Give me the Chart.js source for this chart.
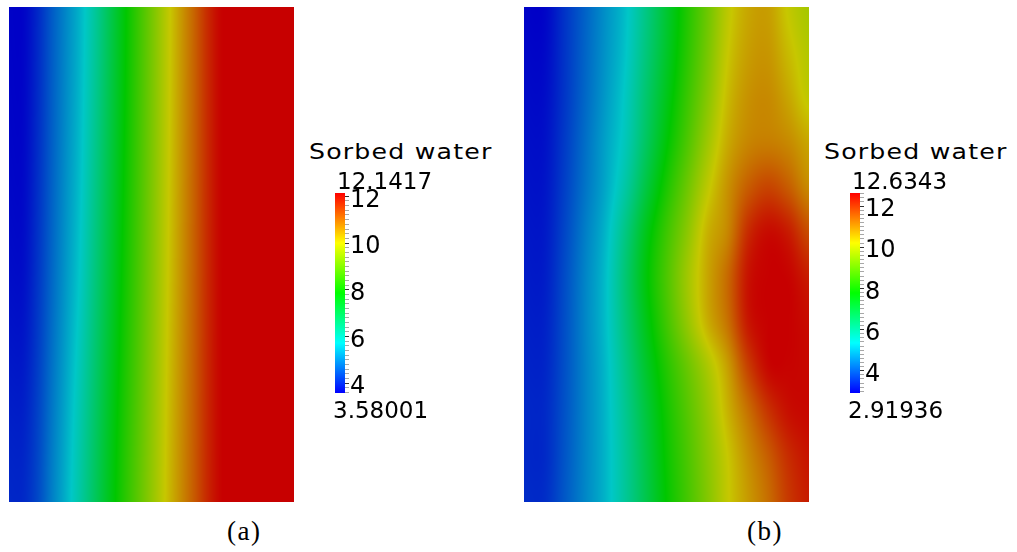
<!DOCTYPE html>
<html>
<head>
<meta charset="utf-8">
<script src="https://cdn.jsdelivr.net/npm/chart.js@4.4.1/dist/chart.umd.min.js"></script>
<style>
  body { margin: 0; background: #fff; }
  #pagina { position: relative; width: 1017px; height: 552px; overflow: hidden; font-family: "DejaVu Sans", sans-serif; color: #000; }
  .caixa { position: absolute; }
  .titulo { position: absolute; font-size: 21px; line-height: 21px; letter-spacing: 1px; transform: scaleX(1.2); transform-origin: left top; white-space: nowrap; }
  .valor { position: absolute; font-size: 23px; line-height: 23px; white-space: nowrap; }
  .legenda { position: absolute; font-family: "Liberation Serif", serif; font-size: 27px; line-height: 27px; letter-spacing: 1.5px; }
</style>
</head>
<body>
<div id="pagina">
  <div class="caixa" style="left:9px;top:7px;width:285px;height:495px"><canvas id="campoA"></canvas></div>
  <div class="caixa" style="left:524px;top:7px;width:285px;height:495px"><canvas id="campoB"></canvas></div>
  <div class="caixa" style="left:335px;top:183px;width:80px;height:220px"><canvas id="barraA"></canvas></div>
  <div class="caixa" style="left:850px;top:183px;width:80px;height:220px"><canvas id="barraB"></canvas></div>

  <div class="titulo" style="left:309px;top:142px">Sorbed water</div>
  <div class="valor" id="maxA" style="left:337px;top:170px"></div>
  <div class="valor" id="minA" style="left:333px;top:399px"></div>

  <div class="titulo" style="left:824px;top:142px">Sorbed water</div>
  <div class="valor" id="maxB" style="left:852px;top:170px"></div>
  <div class="valor" id="minB" style="left:848px;top:399px"></div>

  <div class="legenda" style="left:227px;top:518px">(a)</div>
  <div class="legenda" style="left:747px;top:518px">(b)</div>
</div>

<script>
// faixa de cada campo: [minimo, maximo]
const faixaA = [3.58001, 12.1417];
const faixaB = [2.91936, 12.6343];

// rotulos da barra de cores
const rotulosA = [4, 6, 8, 10, 12];
const rotulosB = [4, 6, 8, 10, 12];

// agua adsorvida (a): linhas de cima para baixo, colunas da esquerda para a direita
const campoA = [
  [3.60, 3.62, 4.00, 4.54, 5.03, 5.52, 6.17, 6.94, 7.70, 8.41, 9.10, 9.79, 10.45, 11.08, 11.72, 12.14, 12.14, 12.14, 12.14, 12.14, 12.14],
  [3.70, 3.72, 4.12, 4.66, 5.19, 5.73, 6.46, 7.19, 7.91, 8.57, 9.23, 9.89, 10.51, 11.12, 11.73, 12.14, 12.14, 12.14, 12.14, 12.14, 12.14],
  [4.00, 4.02, 4.35, 4.93, 5.49, 6.13, 6.84, 7.55, 8.20, 8.81, 9.42, 10.03, 10.61, 11.18, 11.76, 12.14, 12.14, 12.14, 12.14, 12.14, 12.14],
];

// agua adsorvida (b)
const campoB = [
  [2.95, 2.97, 3.54, 4.11, 4.68, 5.26, 6.18, 7.17, 8.15, 9.09, 10.05, 10.60, 10.70, 10.15, 9.80],
  [3.00, 3.02, 3.55, 4.14, 4.72, 5.32, 6.28, 7.27, 8.25, 9.21, 10.18, 10.70, 10.80, 10.35, 9.95],
  [3.05, 3.07, 3.57, 4.18, 4.79, 5.44, 6.45, 7.46, 8.44, 9.40, 10.35, 10.85, 10.95, 10.60, 10.10],
  [3.10, 3.12, 3.63, 4.26, 4.89, 5.55, 6.62, 7.70, 8.69, 9.68, 10.55, 11.00, 11.10, 10.95, 10.60],
  [3.15, 3.17, 3.69, 4.33, 4.96, 5.80, 6.98, 8.09, 9.08, 10.06, 10.85, 11.50, 11.80, 11.50, 10.95],
  [3.20, 3.22, 3.77, 4.45, 5.13, 6.21, 7.47, 8.50, 9.45, 10.45, 11.00, 12.10, 12.50, 12.30, 11.70],
  [3.25, 3.27, 3.84, 4.53, 5.23, 6.40, 7.66, 8.69, 9.70, 10.60, 11.35, 12.40, 12.63, 12.60, 12.30],
  [3.30, 3.32, 3.87, 4.55, 5.23, 6.32, 7.50, 8.55, 9.55, 10.50, 11.25, 12.35, 12.63, 12.63, 12.50],
  [3.35, 3.37, 3.89, 4.53, 5.17, 6.15, 7.25, 8.20, 9.03, 9.84, 10.70, 11.85, 12.55, 12.60, 12.55],
  [3.40, 3.42, 3.92, 4.53, 5.14, 6.03, 7.04, 7.99, 8.79, 9.58, 10.45, 11.25, 12.00, 12.45, 12.55],
  [3.40, 3.42, 3.95, 4.54, 5.13, 5.96, 6.93, 7.88, 8.66, 9.44, 10.20, 10.90, 11.50, 12.10, 12.40],
  [3.45, 3.47, 3.99, 4.56, 5.13, 5.94, 6.87, 7.80, 8.58, 9.36, 10.15, 10.75, 11.30, 11.95, 12.30],
];

Chart.defaults.font.family = "DejaVu Sans";
Chart.defaults.color = "#000";

// azul -> ciano -> verde -> amarelo -> vermelho (HSV)
function corArcoIris(v, min, max, brilho) {
  let t = (v - min) / (max - min);
  t = Math.min(Math.max(t, 0), 1);
  const h = 4 * (1 - t);
  const i = Math.min(Math.floor(h), 3);
  const f = h - i;
  let rgb;
  if (i === 0) rgb = [1, f, 0];
  else if (i === 1) rgb = [1 - f, 1, 0];
  else if (i === 2) rgb = [0, 1, f];
  else rgb = [0, 1 - f, 1];
  return rgb.map((c) => Math.round(c * 255 * brilho));
}

// pesos Catmull-Rom para suavizar entre os nos
function pesos(pos, n) {
  const i = Math.min(Math.max(Math.floor(pos), 0), n - 2);
  const t = Math.min(Math.max(pos - i, 0), 1);
  const t2 = t * t, t3 = t2 * t;
  const idx = [i - 1, i, i + 1, i + 2].map((k) => Math.min(Math.max(k, 0), n - 1));
  const w = [
    (-t3 + 2 * t2 - t) / 2,
    (3 * t3 - 5 * t2 + 2) / 2,
    (-3 * t3 + 4 * t2 + t) / 2,
    (t3 - t2) / 2,
  ];
  return { idx, w };
}

// pinta o campo a partir dos nos, usando as escalas do grafico
const pluginCampo = {
  id: "campo",
  beforeDatasetsDraw(chart, args, opts) {
    const { ctx, chartArea, scales } = chart;
    const linhas = opts.linhas;
    const nl = linhas.length;
    const nc = linhas[0].length;
    const w = Math.round(chartArea.right - chartArea.left);
    const h = Math.round(chartArea.bottom - chartArea.top);

    const tela = document.createElement("canvas");
    tela.width = w;
    tela.height = h;
    const tctx = tela.getContext("2d");
    const img = tctx.createImageData(w, h);

    const colunas = [];
    for (let px = 0; px < w; px++) {
      colunas.push(pesos(scales.x.getValueForPixel(chartArea.left + px + 0.5), nc));
    }

    for (let py = 0; py < h; py++) {
      const py4 = pesos(scales.y.getValueForPixel(chartArea.top + py + 0.5), nl);
      for (let px = 0; px < w; px++) {
        const cx = colunas[px];
        let v = 0;
        for (let j = 0; j < 4; j++) {
          const linha = linhas[py4.idx[j]];
          let s = 0;
          for (let i = 0; i < 4; i++) s += cx.w[i] * linha[cx.idx[i]];
          v += py4.w[j] * s;
        }
        const rgb = corArcoIris(v, opts.min, opts.max, opts.brilho);
        const k = (py * w + px) * 4;
        img.data[k] = rgb[0];
        img.data[k + 1] = rgb[1];
        img.data[k + 2] = rgb[2];
        img.data[k + 3] = 255;
      }
    }

    tctx.putImageData(img, 0, 0);
    ctx.drawImage(tela, chartArea.left, chartArea.top);
  },
};

function criarCampo(id, linhas, faixa) {
  const pontos = [];
  linhas.forEach((linha, l) => linha.forEach((v, c) => pontos.push({ x: c, y: l, v: v })));

  new Chart(document.getElementById(id), {
    type: "scatter",
    plugins: [pluginCampo],
    data: { datasets: [{ data: pontos, pointRadius: 0, pointHoverRadius: 0 }] },
    options: {
      responsive: true,
      maintainAspectRatio: false,
      animation: false,
      events: [],
      layout: { padding: 0 },
      plugins: {
        legend: { display: false },
        tooltip: { enabled: false },
        campo: { linhas: linhas, min: faixa[0], max: faixa[1], brilho: 0.78 },
      },
      scales: {
        x: { type: "linear", display: false, min: 0, max: linhas[0].length - 1 },
        y: { type: "linear", display: false, min: 0, max: linhas.length - 1, reverse: true },
      },
    },
  });
}

function gradienteBarra(chart) {
  const area = chart.chartArea;
  if (!area) return "#888";
  const g = chart.ctx.createLinearGradient(0, area.bottom, 0, area.top);
  for (let i = 0; i <= 4; i++) {
    const rgb = corArcoIris(i / 4, 0, 1, 1);
    g.addColorStop(i / 4, `rgb(${rgb[0]}, ${rgb[1]}, ${rgb[2]})`);
  }
  return g;
}

function criarBarra(id, faixa, rotulos) {
  new Chart(document.getElementById(id), {
    type: "bar",
    data: {
      labels: [""],
      datasets: [
        {
          data: [faixa],
          backgroundColor: (c) => gradienteBarra(c.chart),
          borderWidth: 0,
          barPercentage: 1,
          categoryPercentage: 1,
        },
      ],
    },
    options: {
      responsive: true,
      maintainAspectRatio: false,
      animation: false,
      events: [],
      layout: { padding: { top: 10, bottom: 10, left: 0, right: 0 } },
      plugins: { legend: { display: false }, tooltip: { enabled: false } },
      scales: {
        x: { display: false },
        y: {
          position: "right",
          min: faixa[0],
          max: faixa[1],
          // marcas menores a cada 0.2
          afterBuildTicks: (escala) => {
            const marcas = [];
            for (let k = Math.ceil(faixa[0] / 0.2); k * 0.2 <= faixa[1]; k++) {
              marcas.push({ value: parseFloat((k * 0.2).toFixed(1)) });
            }
            escala.ticks = marcas;
          },
          afterFit: (escala) => {
            escala.width = 70;
            escala.paddingTop = 0;
            escala.paddingBottom = 0;
          },
          border: { display: false },
          grid: {
            drawOnChartArea: false,
            tickLength: 4,
            tickColor: (c) => (c.tick && rotulos.includes(c.tick.value) ? "#333" : "#a8a8a8"),
          },
          ticks: {
            autoSkip: false,
            padding: 1,
            labelOffset: 4,
            color: "#000",
            font: { size: 24, family: "DejaVu Sans" },
            callback: (v) => (rotulos.includes(v) ? String(v) : ""),
          },
        },
      },
    },
  });
}

criarCampo("campoA", campoA, faixaA);
criarCampo("campoB", campoB, faixaB);
criarBarra("barraA", faixaA, rotulosA);
criarBarra("barraB", faixaB, rotulosB);

document.getElementById("maxA").textContent = String(faixaA[1]);
document.getElementById("minA").textContent = String(faixaA[0]);
document.getElementById("maxB").textContent = String(faixaB[1]);
document.getElementById("minB").textContent = String(faixaB[0]);
</script>
</body>
</html>
